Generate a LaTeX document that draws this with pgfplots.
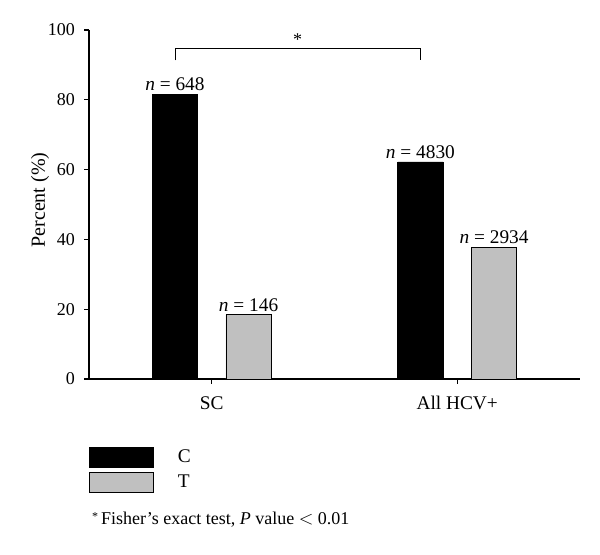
\documentclass[border=0pt]{standalone}
\usepackage{fontspec}
\setmainfont{Liberation Serif}
\usepackage{pgfplots}
\pgfplotsset{compat=1.18}
\definecolor{tgray}{RGB}{192,192,192}
\begin{document}
\begin{tikzpicture}
\useasboundingbox (0,0) rectangle (450pt,415.5pt);
\begin{axis}[
  at={(66.75pt,131.25pt)}, anchor=south west,
  scale only axis, width=368.25pt, height=261.75pt,
  xmin=-0.5, xmax=1.5, ymin=0, ymax=100,
  axis x line*=bottom, axis y line*=left,
  axis line style={line width=0.8pt},
  every tick/.style={line width=0.8pt, black},
  tick align=outside, major tick length=3.5pt,
  xtick={0,1}, xticklabels={SC, All HCV+},
  ytick={0,20,40,60,80,100},
  /pgf/number format/assume math mode=true,
  font=\fontsize{14.5}{17}\selectfont,
  yticklabel style={font=\fontsize{13.5}{16}\selectfont, xshift=-3.5pt},
  xticklabel style={font=\fontsize{14.5}{17}\selectfont, yshift=-6pt},
  ylabel={Percent (\%)},
  ylabel style={at={(axis description cs:-0.0998,0.513)}, anchor=center, font=\fontsize{15}{18}\selectfont},
  clip=false,
  legend style={at={(axis description cs:0,-0.195)}, anchor=north west, draw=none, fill=none,
    inner sep=0pt, outer sep=0pt,
    font=\fontsize{14.5}{17}\selectfont, row sep=3pt,
    nodes={inner sep=0pt, minimum height=15pt}},
  legend cell align=left,
]
\addplot[ybar, bar width=0.184, bar shift=0pt, fill=black, draw=black, line width=0.6pt,
  point meta=explicit symbolic,
  nodes near coords, every node near coord/.append style={font=\fontsize{14.5}{17}\selectfont, anchor=south, yshift=-1pt},
  legend image code/.code={\draw[fill=black, draw=black, line width=0.6pt] (0pt,-7.5pt) rectangle (48pt,7.5pt); \path (66pt,0pt);}]
  coordinates {(-0.15,81.6) [\textit{n} = 648] (0.85,62.2) [\textit{n} = 4830]};
\addlegendentry{C}
\addplot[ybar, bar width=0.184, bar shift=0pt, fill=tgray, draw=black, line width=0.6pt,
  point meta=explicit symbolic,
  nodes near coords, every node near coord/.append style={font=\fontsize{14.5}{17}\selectfont, anchor=south, yshift=-1pt},
  legend image code/.code={\draw[fill=tgray, draw=black, line width=0.6pt] (0pt,-7.5pt) rectangle (48pt,7.5pt); \path (66pt,0pt);}]
  coordinates {(0.15,18.4) [\textit{n} = 146] (1.15,37.8) [\textit{n} = 2934]};
\addlegendentry{T}
\draw[line width=0.6pt] (axis cs:-0.15,91.3) -- (axis cs:-0.15,94.8) -- (axis cs:0.85,94.8) -- (axis cs:0.85,91.3);
\node[font=\fontsize{13.5}{16}\selectfont] at (axis cs:0.35,97.3) {*};
\node[anchor=west, inner sep=0pt, font=\fontsize{13.5}{16}\selectfont] at (axis description cs:0.006,-0.404) {\raisebox{0.5ex}{\fontsize{9}{10}\selectfont *}\,Fisher’s exact test, \textit{P} value ${<}$ 0.01};
\end{axis}
\end{tikzpicture}
\end{document}
